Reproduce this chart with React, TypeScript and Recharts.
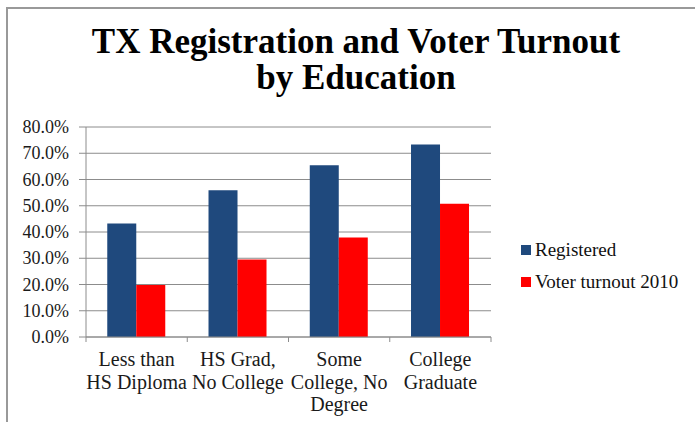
import React from 'react'
import { BarChart, Bar, XAxis, YAxis, CartesianGrid } from 'recharts'

const categories = [
  ['Less than', 'HS Diploma'],
  ['HS Grad,', 'No College'],
  ['Some', 'College, No', 'Degree'],
  ['College', 'Graduate'],
]
const registered = [43.2, 55.9, 65.4, 73.3]
const turnout = [19.8, 29.5, 37.9, 50.8]
const yTicks = [0, 10, 20, 30, 40, 50, 60, 70, 80]
const seriesNames = ['Registered', 'Voter turnout 2010']
const colors = ['#1F497D', '#FF0000']

const data = categories.map((lines, i) => ({
  name: lines.join(' '),
  registered: registered[i],
  turnout: turnout[i],
}))

const font = '"Liberation Serif", "Times New Roman", serif'
const gridColor = '#8c8c8c'

// category label + the boundary tick marks Excel draws between categories
function CatTick(props: any) {
  const { x, y, index, width, visibleTicksCount } = props
  const lines = categories[index] || []
  const band = width / (visibleTicksCount || categories.length)
  return (
    <g>
      <line x1={x - band / 2} x2={x - band / 2} y1={y} y2={y + 5} stroke={gridColor} />
      {index === categories.length - 1 && (
        <line x1={x + band / 2} x2={x + band / 2} y1={y} y2={y + 5} stroke={gridColor} />
      )}
      <text x={x} y={y} textAnchor="middle" fontSize={20} fill="#1a1a1a" style={{ fontFamily: font }}>
        {lines.map((l, i) => (
          <tspan key={i} x={x} dy={i === 0 ? 29 : 22.5}>{l}</tspan>
        ))}
      </text>
    </g>
  )
}

function YTick(props: any) {
  const { x, y, payload } = props
  return (
    <text x={x} y={y} dy={6} textAnchor="end" fontSize={18} fill="#1a1a1a" style={{ fontFamily: font }}>
      {payload.value.toFixed(1) + '%'}
    </text>
  )
}

export default function App() {
  return (
    <div style={{ position: 'fixed', left: 0, top: 0, width: 695, height: 422, background: '#fff' }}>
      <div style={{ position: 'absolute', left: 6, top: 7, right: 0, bottom: 0, borderTop: '2px solid #999', borderLeft: '2px solid #999' }} />
      <div style={{ position: 'absolute', left: 0, width: 712, top: 24, textAlign: 'center', fontFamily: font, fontWeight: 'bold', fontSize: 35, lineHeight: '36px', color: '#000' }}>
        TX Registration and Voter Turnout
        <br />
        by Education
      </div>
      <div style={{ position: 'absolute', left: 0, top: 0 }}>
        <BarChart width={695} height={422} data={data} margin={{ top: 127, right: 204, bottom: 0, left: 0 }} barCategoryGap="21%" barGap={0}>
          <CartesianGrid vertical={false} stroke={gridColor} />
          <XAxis dataKey="name" height={85} stroke={gridColor} tickLine={false} tickSize={0} tickMargin={0} tick={<CatTick />} interval={0} />
          <YAxis domain={[0, 80]} ticks={yTicks} width={86} tickSize={7} tickMargin={10} stroke={gridColor} tick={<YTick />} />
          <Bar dataKey="registered" name={seriesNames[0]} fill={colors[0]} isAnimationActive={false} />
          <Bar dataKey="turnout" name={seriesNames[1]} fill={colors[1]} isAnimationActive={false} />
        </BarChart>
      </div>
      <div style={{ position: 'absolute', left: 521, top: 234, fontFamily: font, fontSize: 19, color: '#111' }}>
        {seriesNames.map((n, i) => (
          <div key={n} style={{ display: 'flex', alignItems: 'center', height: 32 }}>
            <span style={{ display: 'inline-block', width: 10, height: 10, background: colors[i], marginRight: 4 }} />
            <span>{n}</span>
          </div>
        ))}
      </div>
    </div>
  )
}
